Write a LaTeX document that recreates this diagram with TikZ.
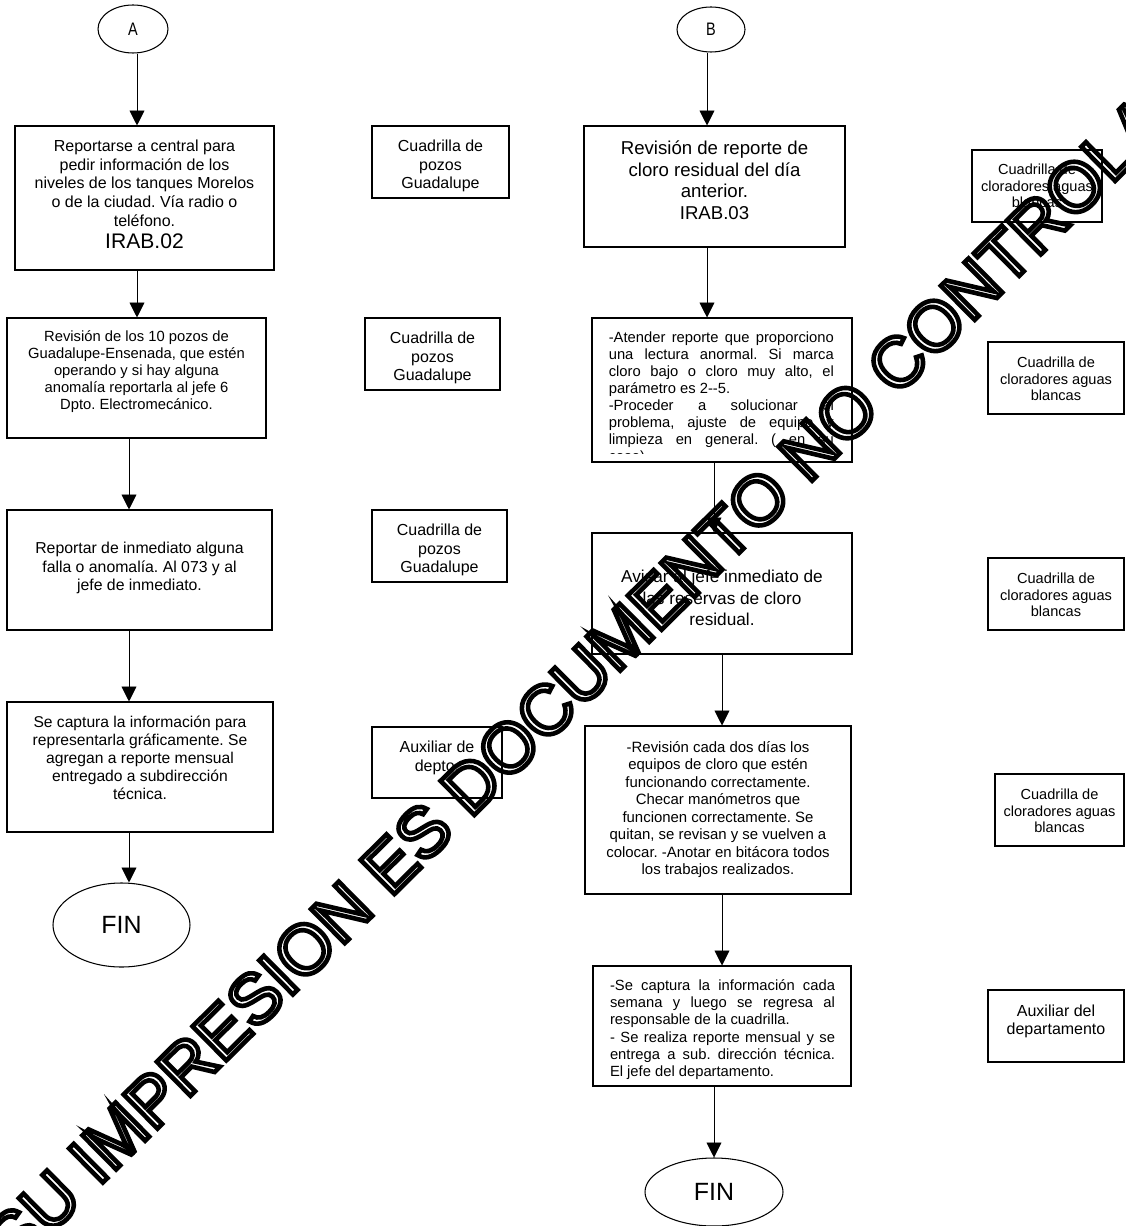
\documentclass[tikz,border=0pt]{standalone}
\usepackage{fontspec}
\setmainfont{Liberation Sans}
\newfontfamily\estrecha[FakeStretch=0.8]{Liberation Sans}
\usetikzlibrary{shapes.geometric,arrows.meta}
\frenchspacing
\newlength{\upx}
\setlength{\upx}{0.02cm}
\newcommand{\caja}[4]{\parbox[c][#2][t]{#1}{\vspace*{#3}\centering #4\par}}
\newcommand{\contorno}[1]{\special{pdf:literal direct 1 Tr 2.6 w}#1\special{pdf:literal direct 0 Tr}}

\begin{document}
\begin{tikzpicture}[x=0.02cm,y=-0.02cm,
  paso/.style={draw,rectangle,inner sep=0pt,line width=0.6pt},
  terminal/.style={draw,ellipse,inner sep=0pt,line width=0.6pt},
  flecha/.style={-{Triangle[length=8.5pt,width=8.5pt]},line width=0.5pt},
  texto/.style={font=\fontsize{9.1}{10.6}\selectfont},
  chico/.style={font=\fontsize{8.4}{9.7}\selectfont},
  grande/.style={font=\fontsize{10.6}{12.2}\selectfont},
  sello/.style={inner sep=0pt,font=\fontsize{39.7}{40}\selectfont}]
\useasboundingbox (0,0) rectangle (1125,1226);

\coordinate (ejeA) at (137,0);
\coordinate (ejeA2) at (129,0);
\coordinate (ejeB) at (707,0);
\coordinate (ejeB2) at (714,0);
\coordinate (ejeB3) at (722,0);

\node[terminal,minimum width=70\upx,minimum height=48\upx,font=\estrecha\fontsize{10.3}{12}\selectfont] (A) at (133,29) {A};
\node[paso,texto] (b1) at (144.5,198) {\caja{259\upx}{144\upx}{14\upx}{Reportarse a central para\\pedir información de los\\niveles de los tanques Morelos\\o de la ciudad. Vía radio o\\teléfono.\par{\fontsize{12}{12.5}\selectfont IRAB.02\par}}};
\node[paso,font=\fontsize{8.4}{9.6}\selectfont] (b2) at (136.5,378) {\caja{259\upx}{120\upx}{13\upx}{Revisión de los 10 pozos de\\Guadalupe-Ensenada, que estén\\operando y si hay alguna\\anomalía reportarla al jefe 6\\Dpto. Electromecánico.}};
\node[paso,font=\fontsize{9.0}{10.6}\selectfont] (b3) at (139.5,570) {\caja{265\upx}{120\upx}{32\upx}{Reportar de inmediato alguna\\falla o anomalía. Al 073 y al\\jefe de inmediato.}};
\node[paso,font=\fontsize{8.9}{10.2}\selectfont] (b4) at (140,767) {\caja{266\upx}{130\upx}{14\upx}{Se captura la información para\\representarla gráficamente. Se\\agregan a reporte mensual\\entregado a subdirección\\técnica.}};
\node[terminal,minimum width=137\upx,minimum height=84\upx,font=\fontsize{14.2}{16}\selectfont] (finA) at (121.5,925) {FIN};

\node[paso,texto] (r1) at (440.5,162) {\caja{137\upx}{72\upx}{14\upx}{Cuadrilla de\\pozos\\Guadalupe}};
\node[paso,texto] (r2) at (432.5,354) {\caja{135\upx}{72\upx}{14\upx}{Cuadrilla de\\pozos\\Guadalupe}};
\node[paso,texto] (r3) at (439.5,546) {\caja{135\upx}{72\upx}{14\upx}{Cuadrilla de\\pozos\\Guadalupe}};
\node[paso,texto] (r4) at (437,762.5) {\caja{130\upx}{71\upx}{14\upx}{Auxiliar de\\depto.}};

\node[terminal,minimum width=68\upx,minimum height=45\upx,font=\estrecha\fontsize{10.3}{12}\selectfont] (B) at (711,29.5) {B};
\node[paso,grande] (c1) at (714.5,186.5) {\caja{261\upx}{121\upx}{15\upx}{Revisión de reporte de\\cloro residual del día\\anterior.\\IRAB.03}};
\node[paso,minimum width=260\upx,minimum height=144\upx] (c2) at (722,390) {};
\begin{scope}
\clip ([yshift=9\upx]c2.south west) rectangle (c2.north east);
\node[chico,anchor=north west,inner sep=0pt] (c2t) at ([xshift=17\upx,yshift=-14\upx]c2.north west) {\parbox{225\upx}{%
\makebox[\linewidth][s]{-Atender reporte que proporciono}\\
\makebox[\linewidth][s]{una lectura anormal. Si marca}\\
\makebox[\linewidth][s]{cloro bajo o cloro muy alto, el}\\
parámetro es 2-{}-5.\\
\makebox[\linewidth][s]{-Proceder a solucionar el}\\
\makebox[\linewidth][s]{problema, ajuste de equipo y}\\
\makebox[\linewidth][s]{limpieza en general. ( en su}\\
caso).}};
\end{scope}
\node[paso,font=\fontsize{9.8}{12.3}\selectfont] (c3) at (722,593.5) {\caja{260\upx}{121\upx}{37\upx}{Avisar al jefe inmediato de\\las reservas de cloro\\residual.}};
\node[paso,font=\fontsize{8.5}{10}\selectfont] (c4) at (718,810) {\caja{266\upx}{168\upx}{15\upx}{-Revisión cada dos días los\\equipos de cloro que estén\\funcionando correctamente.\\Checar manómetros que\\funcionen correctamente. Se\\quitan, se revisan y se vuelven a\\colocar. -Anotar en bitácora todos\\los trabajos realizados.}};
\node[paso,chico] (c5) at (722,1026) {\parbox[c][120\upx][t]{258\upx}{\vspace*{14\upx}\hspace*{17\upx}\parbox[t]{225\upx}{%
\makebox[\linewidth][s]{-Se captura la información cada}\\
\makebox[\linewidth][s]{semana y luego se regresa al}\\
responsable de la cuadrilla.\\
\makebox[\linewidth][s]{- Se realiza reporte mensual y se}\\
\makebox[\linewidth][s]{entrega a sub. dirección técnica.}\\
El jefe del departamento.}}};
\node[terminal,minimum width=138\upx,minimum height=68\upx,font=\fontsize{14.2}{16}\selectfont] (finB) at (714,1192) {FIN};

\node[paso,font=\fontsize{8.3}{9.5}\selectfont] (s1) at (1037,186) {\caja{130\upx}{72\upx}{14\upx}{Cuadrilla de\\cloradores aguas\\blancas}};
\node[paso,font=\fontsize{8.3}{9.5}\selectfont] (s2) at (1056,378) {\caja{136\upx}{72\upx}{15\upx}{Cuadrilla de\\cloradores aguas\\blancas}};
\node[paso,font=\fontsize{8.3}{9.5}\selectfont] (s3) at (1056,594) {\caja{136\upx}{72\upx}{15\upx}{Cuadrilla de\\cloradores aguas\\blancas}};
\node[paso,font=\fontsize{8.3}{9.5}\selectfont] (s4) at (1059.5,810) {\caja{129\upx}{72\upx}{15\upx}{Cuadrilla de\\cloradores aguas\\blancas}};
\node[paso,font=\fontsize{9.1}{10.4}\selectfont] (s5) at (1056,1026) {\caja{136\upx}{72\upx}{15\upx}{Auxiliar del\\departamento}};

\draw[flecha] (A.south -| ejeA) -- (b1.north -| ejeA);
\draw[flecha] (b1.south -| ejeA) -- (b2.north -| ejeA);
\draw[flecha] (b2.south -| ejeA2) -- (b3.north -| ejeA2);
\draw[flecha] (b3.south -| ejeA2) -- (b4.north -| ejeA2);
\draw[flecha] (b4.south -| ejeA2) -- (finA.north -| ejeA2);
\draw[flecha] (B.south -| ejeB) -- (c1.north -| ejeB);
\draw[flecha] (c1.south -| ejeB) -- (c2.north -| ejeB);
\draw[flecha] (c2.south -| ejeB2) -- (c3.north -| ejeB2);
\draw[flecha] (c3.south -| ejeB3) -- (c4.north -| ejeB3);
\draw[flecha] (c4.south -| ejeB3) -- (c5.north -| ejeB3);
\draw[flecha] (c5.south -| ejeB2) -- (finB.north -| ejeB2);

\node[sello,rotate=44.7] (marca) at (614,643) {\contorno{SU IMPRESION ES DOCUMENTO NO CONTROLADO}};
\end{tikzpicture}
\end{document}
